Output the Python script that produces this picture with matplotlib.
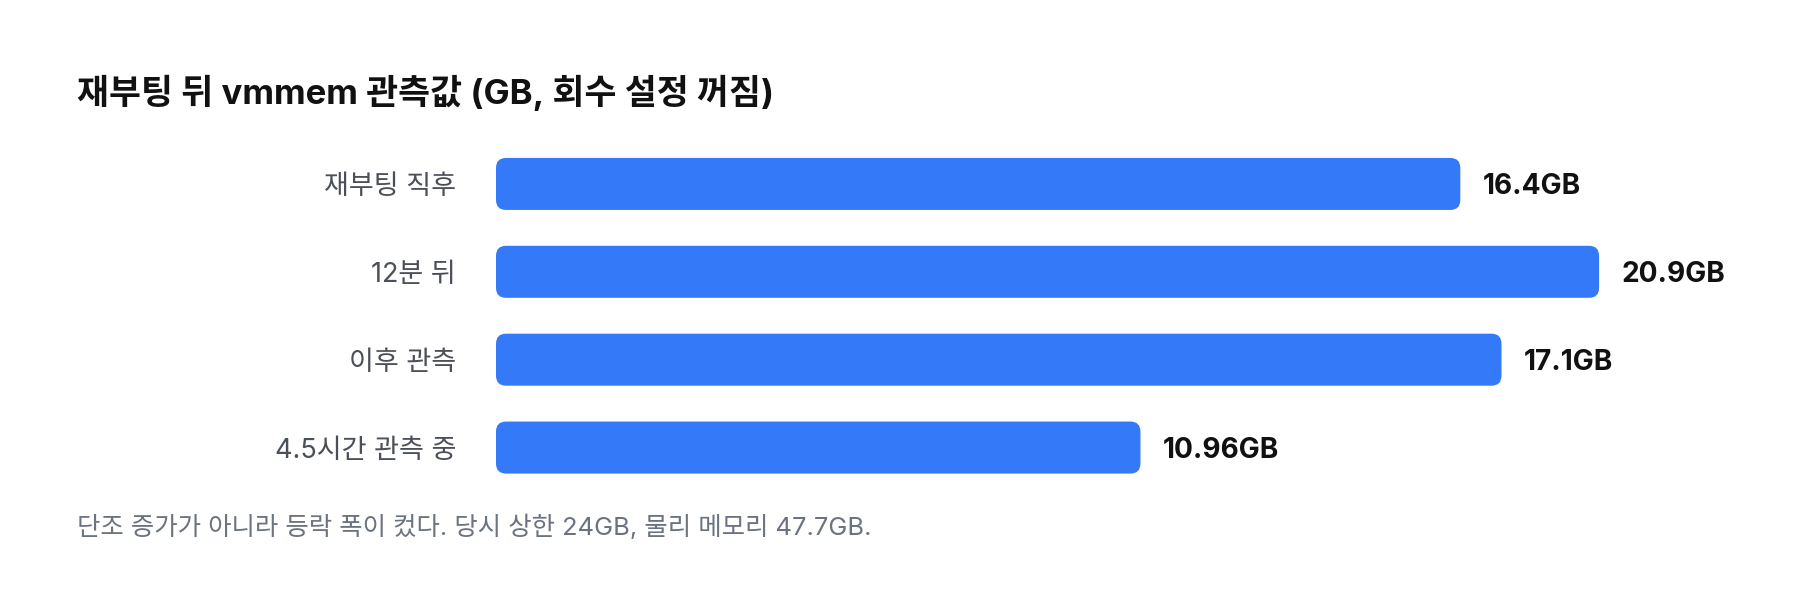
import numpy as np
import matplotlib
matplotlib.use("Agg")
import matplotlib.pyplot as plt
from matplotlib.patches import FancyBboxPatch

plt.rcParams['font.family'] = ['Inter', 'Noto Sans CJK KR', 'DejaVu Sans']

categories = ["재부팅 직후", "12분 뒤", "이후 관측", "4.5시간 관측 중"]
values = [16.4, 20.9, 17.1, 10.96]
value_labels = ["16.4GB", "20.9GB", "17.1GB", "10.96GB"]
title = "재부팅 뒤 vmmem 관측값 (GB, 회수 설정 꺼짐)"
note = "단조 증가가 아니라 등락 폭이 컸다. 당시 상한 24GB, 물리 메모리 47.7GB."

# the source clamps the longest bar to its track width
bar_cap = 18.76

BLUE = "#3479F7"
W, H = 1800, 608

fig = plt.figure(figsize=(W / 100, H / 100), dpi=100)
ax = fig.add_axes([496 / W, (H - 491.5) / H, 1304 / W, 351.5 / H])
ax.set_xlim(0, 1304 / 58.8)
ax.set_ylim(len(categories) - 0.5, -0.5)

px_x = 1304 / ax.get_xlim()[1]
px_y = 351.5 / len(categories)
radius = 10 / px_x
bar_h = 52 / px_y

shown = np.minimum(values, bar_cap)
for i, (v, lab) in enumerate(zip(shown, value_labels)):
    box = FancyBboxPatch((0, i - bar_h / 2), v, bar_h,
                         boxstyle=f"round,pad=0,rounding_size={radius}",
                         mutation_aspect=(10 / px_y) / radius,
                         facecolor=BLUE, edgecolor="none")
    ax.add_patch(box)
    ax.annotate(lab, (v, i), xytext=(22 * 0.72, -2.5 * 0.72),
                textcoords="offset points",
                va="center", ha="left", fontsize=20.2, fontweight="bold",
                color="#111111")

ax.set_yticks(range(len(categories)))
ax.set_yticklabels(categories, fontsize=19.5, color="#4b4f58")
ax.tick_params(axis="y", length=0, pad=40 * 0.72)
ax.set_xticks([])
for s in ax.spines.values():
    s.set_visible(False)

fig.text(77 / W, 1 - 93 / H, title, fontsize=25, fontweight="bold",
         color="#111111", va="center", ha="left")
fig.text(77 / W, 1 - 527 / H, note, fontsize=18.3, color="#6b7280",
         va="center", ha="left")

fig.savefig("out.png", dpi=100, facecolor="white")
